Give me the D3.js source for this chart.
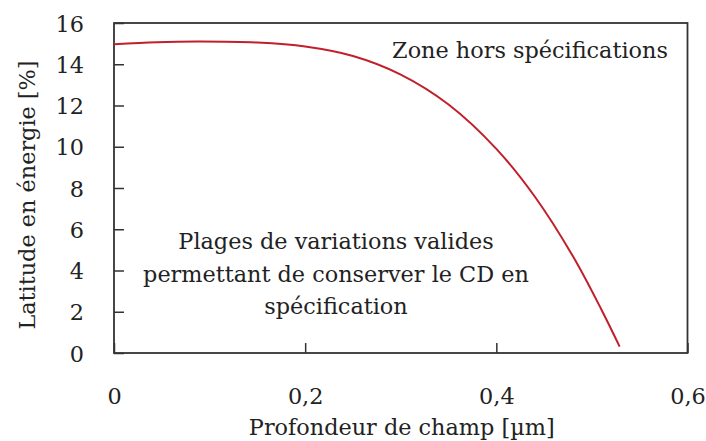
<!DOCTYPE html>
<html>
<head>
<meta charset="utf-8">
<script src="https://cdn.jsdelivr.net/npm/d3@7"></script>
<style>
  html, body { margin: 0; padding: 0; background: #fff; }
  svg { display: block; }
  svg text { font-family: "DejaVu Serif", "Liberation Serif", "Times New Roman", Tinos, "Noto Serif", serif !important; fill: #222; }
</style>
</head>
<body>
<svg id="chart" width="706" height="441"></svg>
<script>
// Data
const depth = [0, 0.045, 0.09, 0.15, 0.2, 0.25, 0.3, 0.35, 0.4, 0.44, 0.48, 0.51, 0.529];
const latitude = [14.97, 15.07, 15.10, 15.05, 14.86, 14.4, 13.5, 12.05, 9.9, 7.6, 4.7, 2.1, 0.31];
const xTicks = [0, 0.2, 0.4, 0.6];
const yTicks = [0, 2, 4, 6, 8, 10, 12, 14, 16];
const xTitle = "Profondeur de champ [µm]";
const yTitle = "Latitude en énergie [%]";
const zoneLabel = "Zone hors spécifications";
const validLines = ["Plages de variations valides", "permettant de conserver le CD en", "spécification"];

const svg = d3.select("#chart");
const L = 114, T = 23, R = 687.5, B = 353;

// pick a font size so the text widths match the reference
const probe = svg.append("text").style("font-size", "100px").text(zoneLabel);
const w100 = probe.node().getComputedTextLength();
probe.remove();
const fs = Math.max(18, Math.min(30, 276 / w100 * 100));

const x = d3.scaleLinear().domain([0, 0.6]).range([L, R]);
const y = d3.scaleLinear().domain([0, 16]).range([B, T]);

const fmtX = d => d === 0 ? "0" : d.toFixed(1).replace(".", ",");
const fmtY = d => String(d);

// X axis
const gx = svg.append("g").attr("transform", `translate(0,${B})`)
  .call(d3.axisBottom(x).tickValues(xTicks).tickFormat(fmtX).tickSizeInner(-10).tickSizeOuter(0));
gx.select(".domain").remove();
gx.selectAll(".tick line").attr("stroke", "#333").attr("stroke-width", 1.5);
gx.selectAll(".tick text").attr("y", 51).attr("dy", 0)
  .style("font-size", fs + "px").attr("fill", "#222");

// Y axis
const gy = svg.append("g").attr("transform", `translate(${L},0)`)
  .call(d3.axisLeft(y).tickValues(yTicks).tickFormat(fmtY).tickSizeInner(-10).tickSizeOuter(0));
gy.select(".domain").remove();
gy.selectAll(".tick line").attr("stroke", "#333").attr("stroke-width", 1.5);
gy.selectAll(".tick text").attr("x", -30).attr("dy", "0.36em").attr("text-anchor", "end")
  .style("font-size", fs + "px").attr("fill", "#222");

// Frame
svg.append("rect").attr("x", L).attr("y", T).attr("width", R - L).attr("height", B - T)
  .attr("fill", "none").attr("stroke", "#333").attr("stroke-width", 1.8);

// Curve
const line = d3.line().x((d, i) => x(depth[i])).y(d => y(d)).curve(d3.curveCatmullRom.alpha(0.5));
svg.append("path").datum(latitude).attr("d", line)
  .attr("fill", "none").attr("stroke", "#c01f2b").attr("stroke-width", 2);

// Annotations
svg.append("text").attr("x", 530).attr("y", 58).attr("text-anchor", "middle")
  .style("font-size", fs + "px").text(zoneLabel);

svg.append("g").selectAll("text").data(validLines).join("text")
  .attr("x", 336).attr("y", (d, i) => 249 + i * 32.5).attr("text-anchor", "middle")
  .style("font-size", fs + "px").text(d => d);

// Axis titles
svg.append("text").attr("x", (L + R) / 2 + 1).attr("y", 435).attr("text-anchor", "middle")
  .style("font-size", fs + "px").text(xTitle);

svg.append("text").attr("transform", `translate(35,${(T + B) / 2 + 7}) rotate(-90)`)
  .attr("text-anchor", "middle").style("font-size", fs + "px").text(yTitle);
</script>
</body>
</html>
